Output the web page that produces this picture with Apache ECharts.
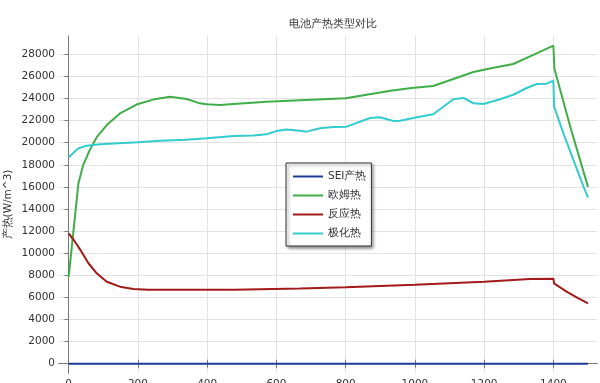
<!DOCTYPE html>
<html>
<head>
<meta charset="utf-8">
<script src="https://cdn.jsdelivr.net/npm/echarts@6/dist/echarts.min.js"></script>
<style>html,body{margin:0;padding:0;background:#fff;}#c{width:600px;height:383px;}</style>
</head>
<body>
<div id="c"></div>
<script>
const seriesNames = ['SEI产热', '欧姆热', '反应热', '极化热'];
const xTicks = [0, 200, 400, 600, 800, 1000, 1200, 1400];
const yTicks = [0, 2000, 4000, 6000, 8000, 10000, 12000, 14000, 16000, 18000, 20000, 22000, 24000, 26000, 28000];

const seiT = [0, 1500];
const seiV = [0, 0];

const ohmT = [0, 28, 42, 61, 81, 110, 148, 196, 244, 293, 341, 379, 399, 437, 476, 572, 668, 800, 930, 990, 1053, 1111, 1169, 1227, 1284, 1342, 1400, 1403, 1450, 1500];
const ohmV = [7850, 16300, 18000, 19350, 20500, 21600, 22650, 23450, 23900, 24150, 23950, 23560, 23470, 23410, 23500, 23710, 23850, 24020, 24700, 24950, 25130, 25770, 26400, 26790, 27120, 27940, 28780, 26700, 21300, 16000];

const reactT = [0, 18, 37, 57, 81, 110, 148, 187, 230, 300, 476, 668, 800, 1000, 1200, 1332, 1400, 1402, 1438, 1470, 1500];
const reactV = [11800, 11040, 10140, 9090, 8180, 7420, 6970, 6760, 6700, 6690, 6700, 6800, 6910, 7150, 7420, 7660, 7690, 7270, 6520, 5950, 5450];

const polT = [0, 28, 52, 90, 200, 264, 340, 399, 476, 534, 572, 600, 629, 668, 687, 726, 764, 803, 870, 899, 938, 957, 1006, 1053, 1111, 1140, 1169, 1198, 1246, 1284, 1323, 1352, 1381, 1400, 1402, 1429, 1458, 1487, 1500];
const polV = [18680, 19490, 19730, 19850, 20050, 20180, 20270, 20400, 20610, 20650, 20760, 21050, 21200, 21090, 21000, 21300, 21420, 21450, 22240, 22300, 21960, 21990, 22300, 22570, 23930, 24050, 23570, 23500, 23930, 24340, 24950, 25310, 25340, 25610, 23260, 20850, 18430, 16020, 15050];

const colors = ['#1f3a9a', '#3fae49', '#a31a1a', '#33cccc'];
const zip = (t, v) => t.map((x, i) => [x, v[i]]);
const FONT = 'DejaVu Sans';
const plain = (v) => String(v);

const chart = echarts.init(document.getElementById('c'), null, {renderer: 'canvas'});
const frame = {show: true, lineStyle: {color: '#777', width: 1}};
const tickIn = (vals) => ({show: true, inside: true, length: 4, customValues: vals, lineStyle: {color: '#777'}});

chart.setOption({
  animation: false,
  backgroundColor: '#fff',
  title: {
    text: '电池产热类型对比', left: 328, top: 14, textAlign: 'center',
    textStyle: {fontFamily: FONT, fontSize: 10.5, fontWeight: 'normal', color: '#333'}
  },
  grid: {left: 59, right: 3, top: 36, bottom: 10, containLabel: false, outerBoundsMode: 'none'},
  legend: {
    data: seriesNames, orient: 'vertical', left: 286, top: 163,
    icon: 'rect', itemWidth: 30, itemHeight: 2, itemGap: 6, padding: [7, 5, 6, 7],
    backgroundColor: '#fff', borderColor: '#333', borderWidth: 1,
    shadowColor: 'rgba(0,0,0,0.45)', shadowBlur: 3, shadowOffsetX: 2, shadowOffsetY: 2,
    textStyle: {fontFamily: FONT, fontSize: 10.5, color: '#333', lineHeight: 13}
  },
  xAxis: [
    {type: 'value', min: -28, max: 1526, position: 'bottom',
     axisLine: frame, axisTick: tickIn(xTicks),
     axisLabel: {customValues: xTicks, formatter: plain, fontFamily: FONT, fontSize: 10.5, color: '#333', margin: 6},
     splitLine: {show: true, lineStyle: {color: '#e3e3e3', width: 1}}},
    {type: 'value', min: -28, max: 1526, position: 'top',
     axisLine: frame, axisTick: tickIn(xTicks), axisLabel: {show: false}, splitLine: {show: false}}
  ],
  yAxis: [
    {type: 'value', min: -842, max: 29656, position: 'left',
     name: '产热(W/m^3)', nameLocation: 'middle', nameGap: 45, nameRotate: 90, nameMoveOverlap: false,
     nameTextStyle: {fontFamily: FONT, fontSize: 10.5, color: '#333'},
     axisLine: frame, axisTick: {show: true, inside: false, length: 4, customValues: yTicks, lineStyle: {color: '#777'}},
     axisLabel: {customValues: yTicks, formatter: plain, fontFamily: FONT, fontSize: 10.5, color: '#333', margin: 4},
     splitLine: {show: true, lineStyle: {color: '#e3e3e3', width: 1}}},
    {type: 'value', min: -842, max: 29656, position: 'right',
     axisLine: frame, axisTick: tickIn(yTicks), axisLabel: {show: false}, splitLine: {show: false}}
  ],
  series: [
    {name: seriesNames[0], type: 'line', data: zip(seiT, seiV)},
    {name: seriesNames[1], type: 'line', data: zip(ohmT, ohmV)},
    {name: seriesNames[2], type: 'line', data: zip(reactT, reactV)},
    {name: seriesNames[3], type: 'line', data: zip(polT, polV)}
  ].map((s, i) => Object.assign(s, {
    symbol: 'none', smooth: false,
    lineStyle: {color: colors[i], width: 2}, itemStyle: {color: colors[i]}
  }))
});
</script>
</body>
</html>
